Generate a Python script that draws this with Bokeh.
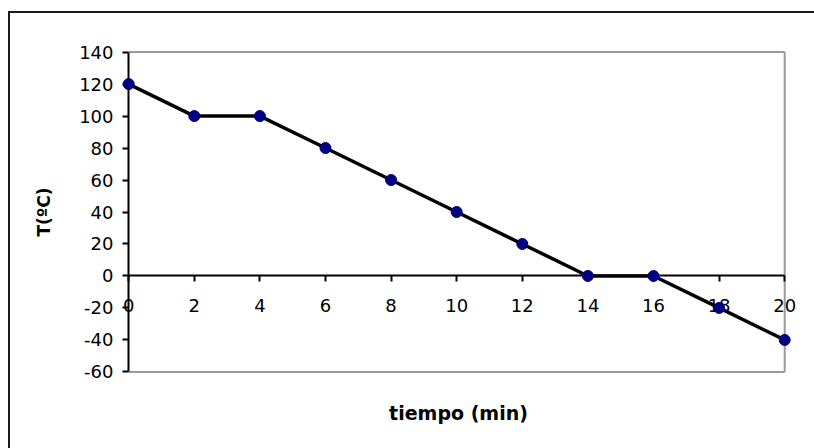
from bokeh.plotting import figure
from bokeh.layouts import column
from bokeh.models import FixedTicker, Range1d, LinearAxis
from bokeh.embed import file_html
from bokeh.resources import INLINE

# ---- data ----
tiempo = [0, 2, 4, 6, 8, 10, 12, 14, 16, 18, 20]
temperatura = [120, 100, 100, 80, 60, 40, 20, 0, 0, -20, -40]
x_ticks = [0, 2, 4, 6, 8, 10, 12, 14, 16, 18, 20]
y_ticks = [-60, -40, -20, 0, 20, 40, 60, 80, 100, 120, 140]
x_title = "tiempo (min)"
y_title = "T(ºC)"

xmin, xmax = min(x_ticks), max(x_ticks)
ymin, ymax = min(y_ticks), max(y_ticks)
xpad_l, xpad_r, ypad = 0.25, 0.36, 1

p = figure(frame_width=676, frame_height=323,
           min_border_left=110, min_border_right=18,
           min_border_top=37, min_border_bottom=75,
           x_range=Range1d(xmin - xpad_l, xmax + xpad_r),
           y_range=Range1d(ymin - ypad, ymax + ypad),
           output_backend="svg", toolbar_location=None)
p.outline_line_color = None
p.grid.visible = False
p.background_fill_color = "white"
p.border_fill_color = "white"

tick_font = "DejaVu Sans"

# --- title-only x axis (normal, below) ---
xt = p.xaxis[0]
xt.ticker = FixedTicker(ticks=x_ticks)
xt.axis_line_color = None
xt.major_tick_line_color = None
xt.minor_tick_line_color = None
xt.major_tick_in = 0
xt.major_tick_out = 0
xt.major_label_text_color = None
xt.major_label_text_font = tick_font
xt.major_label_text_font_size = "18px"
xt.major_label_standoff = 0
xt.axis_label = x_title
xt.axis_label_text_font = "DejaVu Sans"
xt.axis_label_text_font_style = "bold"
xt.axis_label_text_font_size = "19px"
xt.axis_label_text_color = "black"
xt.axis_label_standoff = 28

# --- y axis for tick labels + title (normal, left) ---
yl = p.yaxis[0]
yl.ticker = FixedTicker(ticks=y_ticks)
yl.axis_line_color = None
yl.major_tick_line_color = None
yl.minor_tick_line_color = None
yl.major_tick_in = 0
yl.major_tick_out = 0
yl.major_label_standoff = 7
yl.major_label_text_font = tick_font
yl.major_label_text_font_size = "18px"
yl.major_label_text_color = "black"
yl.major_label_overrides = {t: str(t) for t in y_ticks}
yl.axis_label = y_title
yl.axis_label_text_font = "DejaVu Sans"
yl.axis_label_text_font_style = "bold"
yl.axis_label_text_font_size = "17px"
yl.axis_label_text_color = "black"
yl.axis_label_standoff = 22

# --- x axis crossing at y = 0 (line, ticks, labels) ---
xa = LinearAxis(fixed_location=0, bounds=(xmin, xmax),
                ticker=FixedTicker(ticks=x_ticks))
xa.axis_line_color = "black"
xa.axis_line_width = 2
xa.major_tick_line_color = "black"
xa.major_tick_line_width = 2
xa.major_tick_in = 0
xa.major_tick_out = 6
xa.minor_tick_line_color = None
xa.major_label_standoff = 17
xa.major_label_text_font = tick_font
xa.major_label_text_font_size = "18px"
xa.major_label_text_color = "black"
xa.major_label_overrides = {t: str(t) for t in x_ticks}
p.add_layout(xa, "below")

# --- y axis line + ticks at x = 0 ---
ya = LinearAxis(fixed_location=0, bounds=(ymin, ymax),
                ticker=FixedTicker(ticks=y_ticks))
ya.axis_line_color = "black"
ya.axis_line_width = 2
ya.major_tick_line_color = "black"
ya.major_tick_line_width = 2
ya.major_tick_in = 0
ya.major_tick_out = 6
ya.minor_tick_line_color = None
ya.major_label_text_color = None
ya.major_label_text_font_size = "10px"
p.add_layout(ya, "left")

# plot-area border (top, right, bottom) in gray
p.segment(x0=[xmin, xmax, xmin], y0=[ymax, ymax, ymin],
          x1=[xmax, xmax, xmax], y1=[ymax, ymin, ymin],
          line_color="#9a9a9a", line_width=2)

# series
p.line(tiempo, temperatura, line_color="black", line_width=3.5, level="overlay")
p.scatter(tiempo, temperatura, size=11, fill_color="#000080",
          line_color="#000080", level="overlay")

# outer chart frame (only its left and top edges are inside the picture)
layout = column(p, styles={"border-left": "2px solid #1a1a1a",
                           "border-top": "2px solid #1a1a1a",
                           "box-sizing": "content-box",
                           "margin-top": "11px", "margin-left": "8px"})

open("out.html", "w").write(file_html(layout, INLINE))
